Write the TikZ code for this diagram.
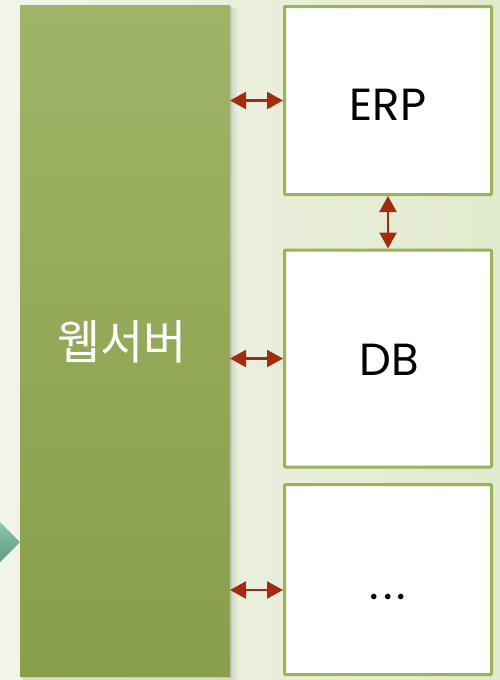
\documentclass[tikz,border=0pt]{standalone}
\usepackage{fontspec}
\setmainfont{Poppins}
\newfontfamily\krfont{Noto Sans CJK KR}
\usetikzlibrary{arrows.meta}
\definecolor{bgL}{HTML}{F1F4E8}
\definecolor{bgR}{HTML}{E2EACF}
\definecolor{webTop}{HTML}{9FB467}
\definecolor{webBot}{HTML}{899E49}
\definecolor{boxLine}{HTML}{9AB356}
\definecolor{linkRed}{HTML}{A52B10}
\definecolor{tealA}{HTML}{8CC6B1}
\definecolor{tealB}{HTML}{5C9B84}
\begin{document}
\begin{tikzpicture}[x=1pt,y=-1pt,
  webbox/.style={rectangle, inner sep=0pt, outer sep=0pt, minimum width=210pt, minimum height=671pt, top color=webTop, bottom color=webBot, draw=none},
  sysbox/.style={rectangle, draw=boxLine, line width=3pt, fill=white, rounded corners=1pt, minimum width=207pt, inner sep=0pt},
  label/.style={inner sep=0pt, font=\fontsize{45pt}{50pt}\selectfont, text=black},
  link/.style={draw=linkRed, line width=2.2pt, {Triangle[length=16pt,width=17pt]}-{Triangle[length=16pt,width=17pt]}}
]
\useasboundingbox (0,0) rectangle (500,680);
\shade[left color=bgL, right color=bgR] (0,0) rectangle (500,680);
% entry arrow at left edge
\shade[top color=tealA, bottom color=tealB] (0,522) -- (20,542) -- (0,562) -- cycle;
% soft shadow of web server block
\fill[black, opacity=0.04] (23,8) rectangle (237,681);
\fill[black, opacity=0.05] (22,7) rectangle (234,680);
\fill[black, opacity=0.07] (21,6) rectangle (232,678);
% web server block
\node[webbox] (web) at (125,340.5) {};
\node[inner sep=0pt, anchor=base, text=white, font=\krfont\fontsize{47pt}{52pt}\selectfont] (webtxt) at (122,359) {웹서버};
% system boxes
\node[sysbox, minimum height=188pt] (erp) at (388,100.5) {};
\node[sysbox, minimum height=217pt] (db) at (388,358.5) {};
\node[sysbox, minimum height=190pt] (dots) at (388,579.5) {};
\node[label, anchor=base] (erptxt) at (388,120) {ERP};
\node[label, anchor=base] (dbtxt) at (389.5,375) {DB};
\node[label, anchor=base] (dotstxt) at (388,599) {.\kern4pt.\kern4pt.};
% connectors
\coordinate (dotsin) at ([yshift=-10.5pt]dots.west);
\draw[link] (web.east |- erp.west) -- (erp.west);
\draw[link] (web.east |- db.west) -- (db.west);
\draw[link] (web.east |- dotsin) -- (dotsin);
\draw[link] (erp.south) -- (db.north);
\end{tikzpicture}
\end{document}
